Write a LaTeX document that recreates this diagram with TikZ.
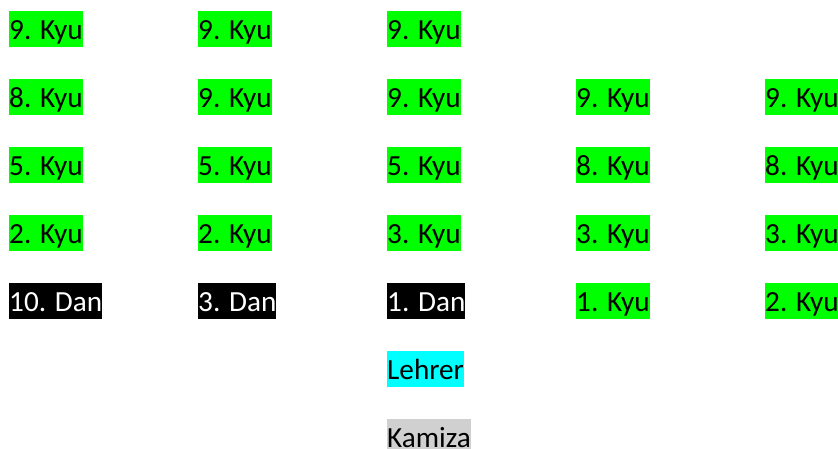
\documentclass[tikz,border=0pt]{standalone}
\usepackage{fontspec}
\setmainfont{Carlito}
\definecolor{kyu}{HTML}{00FF00}
\definecolor{teach}{HTML}{00FFFF}
\definecolor{kam}{HTML}{D0D0D0}
\tikzset{
  belt/.style={anchor=north west, inner sep=0pt, text height=28pt, text depth=8pt,
    font=\fontsize{29.2pt}{36pt}\selectfont},
  kyubox/.style={belt, fill=kyu, text=black},
  danbox/.style={belt, fill=black, text=white},
  lehrerbox/.style={belt, fill=teach, text=black},
  kamizabox/.style={belt, fill=kam, text=black}
}
\begin{document}
\begin{tikzpicture}[x=1pt,y=1pt]
\useasboundingbox (0,0) rectangle (838,448);
\clip (0,0) rectangle (838,448);
% columns 9,198,387,576,765 ; row tops 11,79,147,215,283,351,419
\node[kyubox] (r1c1) at (9,437) {9. Kyu};
\node[kyubox] (r1c2) at (198,437) {9. Kyu};
\node[kyubox] (r1c3) at (387,437) {9. Kyu};

\node[kyubox] (r2c1) at (9,369) {8. Kyu};
\node[kyubox] (r2c2) at (198,369) {9. Kyu};
\node[kyubox] (r2c3) at (387,369) {9. Kyu};
\node[kyubox] (r2c4) at (576,369) {9. Kyu};
\node[kyubox] (r2c5) at (765,369) {9. Kyu};

\node[kyubox] (r3c1) at (9,301) {5. Kyu};
\node[kyubox] (r3c2) at (198,301) {5. Kyu};
\node[kyubox] (r3c3) at (387,301) {5. Kyu};
\node[kyubox] (r3c4) at (576,301) {8. Kyu};
\node[kyubox] (r3c5) at (765,301) {8. Kyu};

\node[kyubox] (r4c1) at (9,233) {2. Kyu};
\node[kyubox] (r4c2) at (198,233) {2. Kyu};
\node[kyubox] (r4c3) at (387,233) {3. Kyu};
\node[kyubox] (r4c4) at (576,233) {3. Kyu};
\node[kyubox] (r4c5) at (765,233) {3. Kyu};

\node[danbox] (r5c1) at (9,165) {10. Dan};
\node[danbox] (r5c2) at (198,165) {3. Dan};
\node[danbox] (r5c3) at (387,165) {1. Dan};
\node[kyubox] (r5c4) at (576,165) {1. Kyu};
\node[kyubox] (r5c5) at (765,165) {2. Kyu};

\node[lehrerbox] (lehrer) at (387,97) {Lehrer};
\node[kamizabox] (kamiza) at (387,29) {Kamiza};
\end{tikzpicture}
\end{document}
